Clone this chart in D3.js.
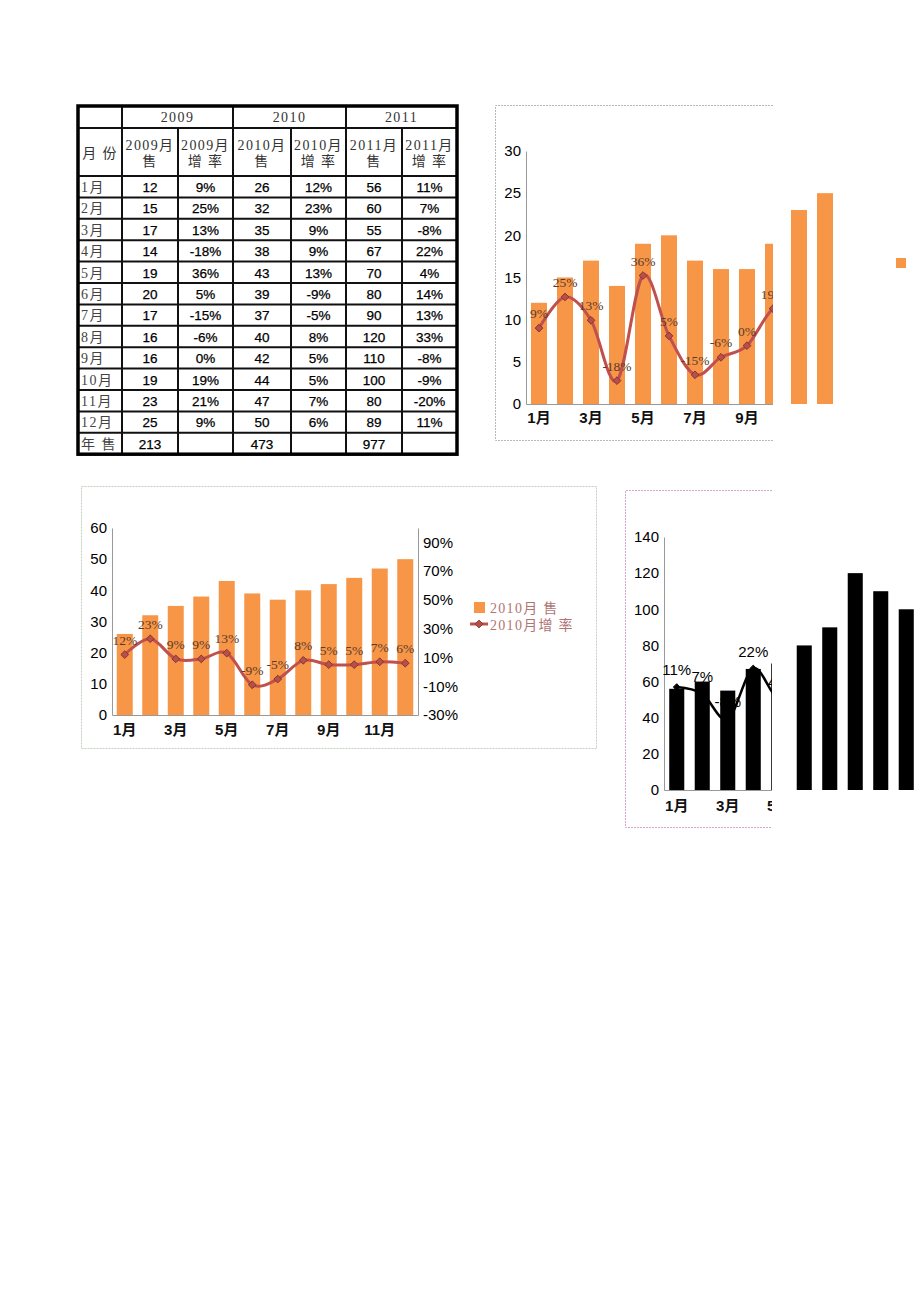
<!DOCTYPE html>
<html><head><meta charset="utf-8">
<script src="https://cdn.jsdelivr.net/npm/d3@7"></script>
<style>
html,body{margin:0;padding:0;background:#fff;}
svg{display:block;}
</style></head>
<body>
<script>
// ---------- data ----------
const months = ["1月","2月","3月","4月","5月","6月","7月","8月","9月","10月","11月","12月"];
const years = ["2009","2010","2011"];
const sales2009 = [12,15,17,14,19,20,17,16,16,19,23,25];
const growth2009 = [0.09,0.25,0.13,-0.18,0.36,0.05,-0.15,-0.06,0.00,0.19,0.21,0.09];
const sales2010 = [26,32,35,38,43,39,37,40,42,44,47,50];
const growth2010 = [0.12,0.23,0.09,0.09,0.13,-0.09,-0.05,0.08,0.05,0.05,0.07,0.06];
const sales2011 = [56,60,55,67,70,80,90,120,110,100,80,89];
const growth2011 = [0.11,0.07,-0.08,0.22,0.04,0.14,0.13,0.33,-0.08,-0.09,-0.20,0.11];
const yearTotals = [213,473,977];
const ticks1 = [0,5,10,15,20,25,30];
const ticks2 = [0,10,20,30,40,50,60];
const ticks2r = [-0.3,-0.1,0.1,0.3,0.5,0.7,0.9];
const ticks3 = [0,20,40,60,80,100,120,140];
const legend2 = ["2010月  售","2010月增  率"];

// ---------- setup ----------
const W = 920, H = 1302;
const SANS = "'Liberation Sans', Arial, 'Noto Sans CJK SC', sans-serif";
const SERIF = "'Liberation Serif', 'Times New Roman', 'Noto Sans CJK SC', serif";
const ORANGE = "#f79646";
const LINE = "#c0504d";
const pct = v => Math.round(v*100) + "%";

const svg = d3.select("body").append("svg").attr("width", W).attr("height", H);
svg.append("rect").attr("width", W).attr("height", H).attr("fill", "#fff");
const defs = svg.append("defs");

// ---------- table ----------
(function drawTable(){
  const g = svg.append("g");
  const cx = [78,122,178,233,291,346,402,457];
  const top = 106, h1 = 128, h2 = 176, rowH = 21.4;
  const nRows = months.length + 1;
  const bottom = h2 + nRows*rowH;
  const rows = months.map((m,i)=>[m, sales2009[i], pct(growth2009[i]), sales2010[i], pct(growth2010[i]), sales2011[i], pct(growth2011[i])]);
  rows.push(["年  售", yearTotals[0], "", yearTotals[1], "", yearTotals[2], ""]);

  const hl = [h1, h2].concat(d3.range(1, nRows).map(i=>h2+i*rowH));
  g.selectAll("line.h").data(hl).join("line")
    .attr("x1", cx[0]).attr("x2", cx[7])
    .attr("y1", d=>d).attr("y2", d=>d)
    .attr("stroke", "#111").attr("stroke-width", 2);
  [1,3,5].forEach(i=>{
    g.append("line").attr("x1",cx[i]).attr("x2",cx[i]).attr("y1",top).attr("y2",bottom).attr("stroke","#111").attr("stroke-width",2);
  });
  [2,4,6].forEach(i=>{
    g.append("line").attr("x1",cx[i]).attr("x2",cx[i]).attr("y1",h1).attr("y2",bottom).attr("stroke","#111").attr("stroke-width",2);
  });
  g.append("rect").attr("x", cx[0]).attr("y", top).attr("width", cx[7]-cx[0]).attr("height", bottom-top)
    .attr("fill","none").attr("stroke","#000").attr("stroke-width",3.5);

  const hdr = sel => sel.attr("text-anchor","middle").attr("font-family", SERIF).attr("font-size", 14)
    .attr("letter-spacing", 1.4).attr("fill","#333");
  g.selectAll("text.yr").data(years).join("text")
    .attr("x", (d,i)=>(cx[1+2*i]+cx[3+2*i])/2).attr("y", 122).call(hdr).text(d=>d);
  g.append("text").attr("x", (cx[0]+cx[1])/2).attr("y", 158).call(hdr).text("月 份");
  years.forEach((y,i)=>{
    const a = (cx[1+2*i]+cx[2+2*i])/2, b = (cx[2+2*i]+cx[3+2*i])/2;
    [[a, y+"月", "售"], [b, y+"月", "增  率"]].forEach(([x, l1, l2])=>{
      g.append("text").attr("x", x).attr("y", 150).call(hdr).text(l1);
      g.append("text").attr("x", x).attr("y", 166).call(hdr).text(l2);
    });
  });
  rows.forEach((r, ri)=>{
    const yb = h2 + ri*rowH + 16;
    g.append("text").attr("x", 81).attr("y", yb).attr("font-family", SERIF).attr("font-size", 14)
      .attr("letter-spacing", 1.5).attr("fill","#444").text(r[0]);
    for (let c=1;c<7;c++){
      if (r[c]==="") continue;
      g.append("text").attr("x", (cx[c]+cx[c+1])/2).attr("y", yb).attr("text-anchor","middle")
        .attr("font-family", SANS).attr("font-size", 13.5).attr("fill","#000")
        .attr("stroke","#000").attr("stroke-width",0.25).text(r[c]);
    }
  });
})();

// ---------- generic combo chart ----------
function combo(opt){
  const g = svg.append("g");
  const fr = opt.frame;
  if (opt.fullFrame){
    g.append("rect").attr("x", fr.x0).attr("y", fr.y0).attr("width", fr.x1-fr.x0).attr("height", fr.y1-fr.y0)
      .attr("fill","none").attr("stroke", opt.frameColor).attr("stroke-width",1).attr("stroke-dasharray","2,1");
  } else {
    const p = `M${fr.x1},${fr.y0}H${fr.x0}V${fr.y1}H${fr.x1}`;
    g.append("path").attr("d", p).attr("fill","none").attr("stroke", opt.frameColor).attr("stroke-width",1).attr("stroke-dasharray","2,1");
  }
  const clipId = "clip" + opt.id;
  defs.append("clipPath").attr("id", clipId).append("rect")
    .attr("x", fr.x0).attr("y", fr.y0).attr("width", opt.clipRight - fr.x0).attr("height", fr.y1 - fr.y0);
  const inner = g.append("g").attr("clip-path", `url(#${clipId})`);

  const x = d3.scaleBand().domain(months).range(opt.xRange).paddingInner(opt.padIn).paddingOuter(opt.padIn/2);
  const y = d3.scaleLinear().domain(opt.yDomain).range(opt.yRange);
  const yr = d3.scaleLinear().domain(opt.yrDomain).range(opt.yRange);
  const cxm = m => x(m) + x.bandwidth()/2;
  const visible = m => cxm(m) < opt.clipRight + 12;   // text still (partly) inside the frame

  const barData = opt.sales.map((v,i)=>({m: months[i], v}));
  const drawBars = (sel, data) => sel.selectAll("rect.bar").data(data).join("rect").attr("class","bar")
      .attr("x", d=>x(d.m)).attr("width", x.bandwidth())
      .attr("y", d=>y(d.v)).attr("height", d=>y(0)-y(d.v)).attr("fill", opt.barColor);
  drawBars(inner, barData.filter(d=>x(d.m) < opt.clipRight));
  // bars fully beyond the clip edge remain visible (as in the reference)
  drawBars(g.append("g"), barData.filter(d=>x(d.m) >= opt.clipRight));

  const axL = inner.append("g").attr("transform", `translate(${opt.xRange[0]},0)`)
    .call(d3.axisLeft(y).tickValues(opt.yTicks).tickSize(0).tickPadding(5).tickFormat(d3.format("d")));
  axL.select(".domain").attr("stroke", "#999");
  axL.selectAll("text").attr("font-family", SANS).attr("font-size", opt.tickFont).attr("fill","#000");
  const axB = inner.append("g").attr("transform", `translate(0,${opt.yRange[0]})`)
    .call(d3.axisBottom(x).tickSize(0).tickPadding(opt.xPad).tickFormat((d,i)=> (i%2===0 && visible(d)) ? d : ""));
  axB.select(".domain").attr("stroke", "#999");
  axB.selectAll(".tick").filter(d=>!visible(d)).remove();
  axB.selectAll("text").attr("font-family", SANS).attr("font-size", opt.tickFont).attr("font-weight","bold").attr("fill","#111");
  if (opt.rightAxis){
    const axR = inner.append("g").attr("transform", `translate(${opt.xRange[1]},0)`)
      .call(d3.axisRight(yr).tickValues(opt.yrTicks).tickSize(0).tickPadding(5).tickFormat(d=>Math.round(d*100)+"%"));
    axR.select(".domain").attr("stroke", "#999");
    axR.selectAll("text").attr("font-family", SANS).attr("font-size", opt.tickFont).attr("fill","#000");
  }

  const pts = opt.growth.map((v,i)=>({m: months[i], v}));
  const line = d3.line().x(d=>cxm(d.m)).y(d=>yr(d.v)).curve(d3.curveCatmullRom.alpha(0));
  inner.append("path").datum(pts).attr("d", line).attr("fill","none")
    .attr("stroke", opt.lineColor).attr("stroke-width", opt.lineWidth).attr("stroke-linejoin","round");
  const vis = pts.filter(d=>visible(d.m));
  inner.selectAll("path.mk").data(vis).join("path").attr("class","mk")
    .attr("transform", d=>`translate(${cxm(d.m)},${yr(d.v)})`)
    .attr("d", d3.symbol(d3.symbolDiamond2, opt.markerSize)())
    .attr("fill", opt.markerFill).attr("stroke", opt.markerStroke).attr("stroke-width",1);
  inner.selectAll("text.lbl").data(vis).join("text").attr("class","lbl")
    .attr("x", d=>cxm(d.m)).attr("y", d=>yr(d.v)-opt.labelOffset)
    .attr("text-anchor","middle").attr("font-family", opt.labelFont).attr("font-size", opt.labelSize)
    .attr("fill", opt.labelColor).text(d=>pct(d.v));
  return {g, x, y, yr};
}

// ---------- chart 1 (2009) ----------
const c1 = combo({
  id: 1, frame: {x0: 495.5, y0: 105.5, x1: 773, y1: 440.5}, fullFrame: false, frameColor: "#b8b8b8",
  clipRight: 773,
  xRange: [526, 838], padIn: 0.385,
  yDomain: [0,30], yRange: [404,151], yTicks: ticks1,
  yrDomain: [-0.3,1.0],
  sales: sales2009, growth: growth2009, barColor: ORANGE,
  lineColor: LINE, lineWidth: 3, markerSize: 38, markerFill: "#b5504b", markerStroke: "#8a3330",
  labelOffset: 10, labelFont: SERIF, labelSize: 13.5, labelColor: "#5a3a2c",
  tickFont: 15, xPad: 8
});
c1.g.append("rect").attr("x", 896).attr("y", 258).attr("width", 10).attr("height", 10).attr("fill", ORANGE);

// ---------- chart 2 (2010) ----------
const c2 = combo({
  id: 2, frame: {x0: 81.5, y0: 486.5, x1: 596.5, y1: 748.5}, fullFrame: true, frameColor: "#c4cfc0",
  clipRight: 597,
  xRange: [112, 418], padIn: 0.373,
  yDomain: [0,60], yRange: [715,528], yTicks: ticks2,
  yrDomain: [-0.3,1.0], rightAxis: true, yrTicks: ticks2r,
  sales: sales2010, growth: growth2010, barColor: ORANGE,
  lineColor: LINE, lineWidth: 3, markerSize: 38, markerFill: "#b5504b", markerStroke: "#8a3330",
  labelOffset: 10, labelFont: SERIF, labelSize: 13.5, labelColor: "#5a3a2c",
  tickFont: 15, xPad: 9
});
const lg = c2.g.append("g");
lg.append("rect").attr("x", 474).attr("y", 602).attr("width", 11).attr("height", 11).attr("fill", ORANGE);
lg.append("line").attr("x1", 470).attr("x2", 488).attr("y1", 624).attr("y2", 624).attr("stroke", LINE).attr("stroke-width", 3);
lg.append("path").attr("transform","translate(479,624)").attr("d", d3.symbol(d3.symbolDiamond2, 38)())
  .attr("fill","#b5504b").attr("stroke","#8a3330");
lg.selectAll("text").data(legend2).join("text")
  .attr("x", 490).attr("y", (d,i)=>612.5 + i*17).attr("font-family", SERIF).attr("font-size", 14)
  .attr("letter-spacing", 1.3).attr("fill", "#b07474").text(d=>d);

// ---------- chart 3 (2011) ----------
combo({
  id: 3, frame: {x0: 625.5, y0: 490.5, x1: 772, y1: 827.5}, fullFrame: false, frameColor: "#d4a6d0",
  clipRight: 772,
  xRange: [664, 970], padIn: 0.41,
  yDomain: [0,140], yRange: [790,537], yTicks: ticks3,
  yrDomain: [-0.5,1.0],
  sales: sales2011, growth: growth2011, barColor: "#000",
  lineColor: "#000", lineWidth: 2.5, markerSize: 30, markerFill: "#000", markerStroke: "#000",
  labelOffset: 12, labelFont: SANS, labelSize: 15, labelColor: "#000",
  tickFont: 15, xPad: 10
});
</script>
</body></html>
